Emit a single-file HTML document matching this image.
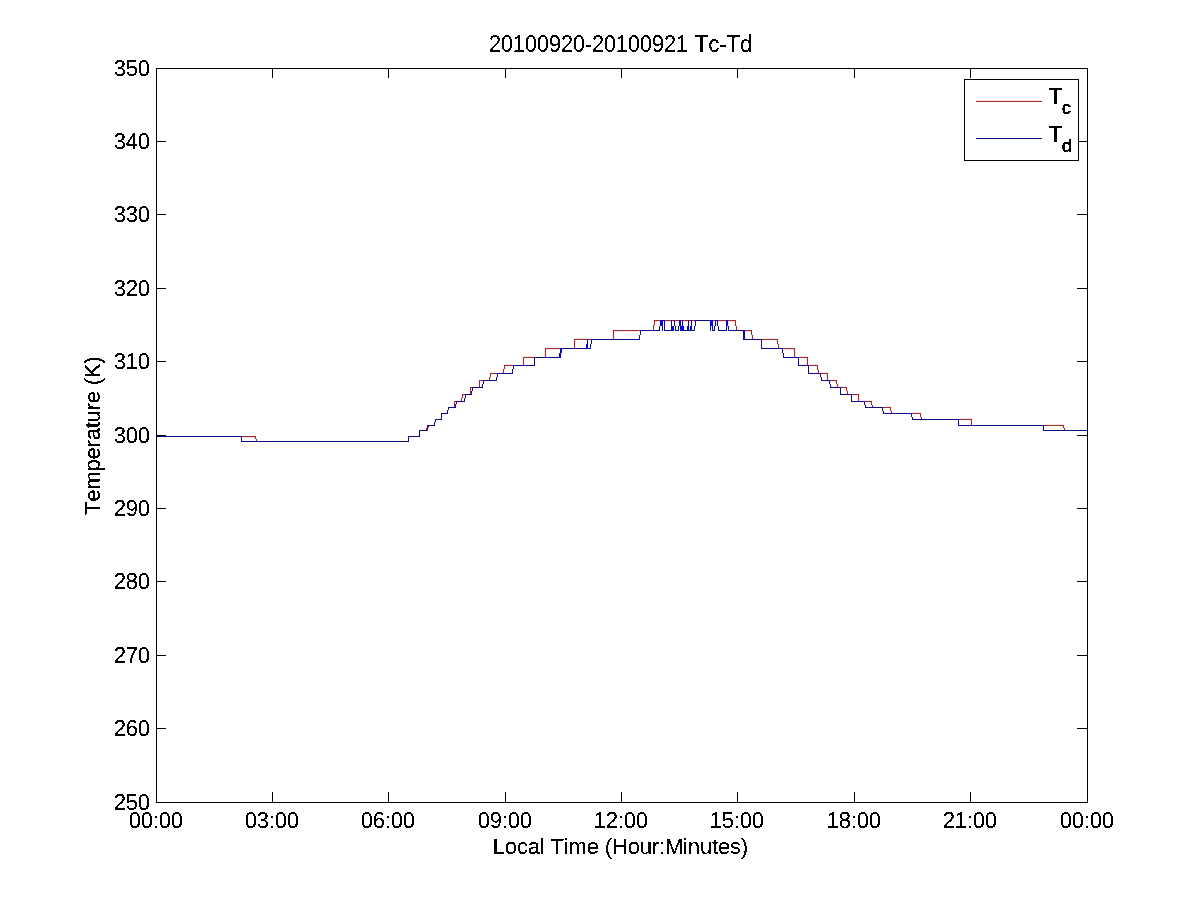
<!DOCTYPE html>
<html lang="en">
<head>
<meta charset="utf-8">
<title>20100920-20100921 Tc-Td</title>
<style>
html,body{margin:0;padding:0;background:#fff;}
body{width:1201px;height:901px;overflow:hidden;}
svg{display:block;}
text{font-family:"Liberation Sans",Arial,Helvetica,sans-serif;font-size:22px;fill:#000;font-kerning:none;font-variant-ligatures:none;}
.sub{font-size:17.6px;stroke:#000;stroke-width:0.45px;}
</style>
</head>
<body>
<svg width="1201" height="901" viewBox="0 0 1201 901" shape-rendering="crispEdges">
<defs><filter id="px" x="0" y="0" width="100%" height="100%" filterUnits="userSpaceOnUse" color-interpolation-filters="sRGB"><feComponentTransfer><feFuncA type="discrete" tableValues="0 0 0 0 0 1 1 1 1 1 1 1"/></feComponentTransfer></filter></defs>
<rect width="1201" height="901" fill="#fff"/>
<g id="data">
<path fill="#fcf0fc" d="M663 321h1v1h-1zM696 321h1v1h-1zM716 321h1v1h-1zM718 321h1v1h-1zM659 322h1v1h-1zM665 322h2v1h-2zM669 322h2v1h-2zM672 322h2v1h-2zM675 322h4v1h-4zM681 322h1v1h-1zM683 322h2v1h-2zM687 322h1v1h-1zM689 322h2v1h-2zM692 322h3v1h-3zM713 322h2v1h-2zM725 322h1v1h-1zM728 322h1v1h-1zM652 329h1v1h-1zM737 329h1v1h-1zM639 331h1v1h-1zM745 332h2v1h-2zM586 338h2v1h-2zM590 338h3v1h-3zM611 337h1v2h-1zM614 337h1v2h-1zM751 337h1v2h-1zM754 337h1v2h-1zM761 338h2v1h-2zM586 340h1v1h-1zM590 340h1v1h-1zM575 347h1v1h-1zM779 347h1v1h-1zM781 349h1v1h-1zM559 350h1v1h-1zM783 350h2v1h-2zM796 355h1v1h-1zM533 356h2v1h-2zM543 355h1v2h-1zM546 355h1v2h-1zM793 355h1v2h-1zM796 356h4v1h-4zM799 358h1v1h-1zM808 363h1v1h-1zM512 364h3v1h-3zM521 363h1v2h-1zM524 363h1v2h-1zM805 363h1v2h-1zM808 364h2v1h-2zM512 366h1v1h-1zM809 366h1v1h-1zM820 371h1v1h-1zM496 372h3v1h-3zM501 371h1v2h-1zM504 371h1v2h-1zM817 371h1v2h-1zM820 372h2v1h-2zM496 374h1v1h-1zM821 374h1v1h-1zM488 379h1v1h-1zM826 379h1v1h-1zM828 379h1v1h-1zM484 381h1v1h-1zM830 381h1v1h-1zM481 382h2v1h-2zM838 385h1v1h-1zM471 386h2v1h-2zM477 385h1v2h-1zM480 385h1v2h-1zM835 385h1v2h-1zM838 386h4v1h-4zM841 388h1v1h-1zM472 391h1v2h-1zM463 393h1v1h-1zM469 391h1v3h-1zM846 393h1v1h-1zM466 395h1v1h-1zM852 395h1v1h-1zM464 396h1v1h-1zM463 397h2v1h-2zM455 400h2v1h-2zM459 399h1v2h-1zM462 399h1v2h-1zM857 399h1v2h-1zM860 399h1v2h-1zM863 400h3v1h-3zM865 402h1v1h-1zM456 404h1v2h-1zM870 405h2v1h-2zM873 405h1v1h-1zM453 404h1v3h-1zM869 406h3v1h-3zM873 406h2v1h-2zM881 406h3v1h-3zM883 408h1v1h-1zM889 411h1v2h-1zM892 411h1v2h-1zM911 412h2v1h-2zM919 417h1v2h-1zM922 417h1v2h-1zM957 418h3v1h-3zM959 420h1v1h-1zM969 423h1v2h-1zM972 423h1v2h-1zM1043 424h2v1h-2zM429 426h1v1h-1zM426 427h1v1h-1zM428 428h1v1h-1zM425 429h1v1h-1zM1065 429h1v1h-1zM425 431h3v1h-3zM242 437h1v1h-1zM254 439h2v1h-2zM257 439h1v1h-1zM253 440h3v1h-3zM257 440h2v1h-2z"/>
<path fill="#f0f0fc" d="M709 321h1v1h-1zM681 323h1v3h-1zM683 325h1v1h-1zM689 323h2v3h-2zM713 323h2v3h-2zM716 322h1v4h-1zM715 326h1v1h-1zM658 329h1v1h-1zM663 322h1v8h-1zM665 329h1v1h-1zM670 329h1v1h-1zM674 326h1v4h-1zM679 326h1v4h-1zM686 329h1v1h-1zM689 326h1v4h-1zM711 326h1v4h-1zM713 326h1v4h-1zM719 329h1v1h-1zM727 326h1v4h-1zM729 329h1v1h-1zM641 331h2v1h-2zM741 331h2v1h-2zM641 332h1v1h-1zM742 332h1v1h-1zM638 337h1v1h-1zM745 337h1v1h-1zM637 338h2v1h-2zM745 338h2v1h-2zM760 340h1v1h-1zM586 343h1v1h-1zM562 349h1v1h-1zM561 353h1v2h-1zM558 355h1v1h-1zM557 356h2v1h-2zM784 356h1v1h-1zM535 358h1v1h-1zM799 363h1v1h-1zM533 364h1v1h-1zM799 364h2v1h-2zM809 371h1v1h-1zM511 372h1v1h-1zM809 372h2v1h-2zM827 381h2v1h-2zM828 382h1v1h-1zM831 385h1v1h-1zM481 386h1v1h-1zM831 386h2v1h-2zM473 388h1v1h-1zM841 393h1v1h-1zM849 395h2v1h-2zM850 396h1v1h-1zM463 400h1v1h-1zM852 400h1v1h-1zM457 402h1v1h-1zM866 406h1v1h-1zM449 408h1v1h-1zM446 411h1v1h-1zM445 412h2v1h-2zM884 412h1v1h-1zM910 414h1v1h-1zM440 417h1v1h-1zM439 418h2v1h-2zM913 418h2v1h-2zM959 423h1v1h-1zM433 424h1v1h-1zM959 424h2v1h-2zM1042 426h1v1h-1zM420 431h1v1h-1zM418 435h1v1h-1zM239 437h2v1h-2zM409 437h2v1h-2zM240 438h1v1h-1zM409 438h1v1h-1zM242 440h1v1h-1zM407 440h1v1h-1z"/>
<path fill="#fce4fc" d="M659 321h1v1h-1zM665 321h2v1h-2zM669 321h2v1h-2zM672 321h2v1h-2zM675 321h4v1h-4zM681 321h1v1h-1zM683 321h2v1h-2zM687 321h1v1h-1zM689 321h2v1h-2zM692 321h3v1h-3zM713 321h2v1h-2zM725 321h1v1h-1zM728 321h1v1h-1zM745 331h2v1h-2zM612 337h1v2h-1zM753 337h1v2h-1zM559 349h1v1h-1zM783 349h2v1h-2zM544 355h1v2h-1zM795 355h1v2h-1zM522 363h1v2h-1zM806 363h1v2h-1zM502 371h1v2h-1zM819 371h1v2h-1zM481 381h2v1h-2zM478 385h1v2h-1zM836 385h1v2h-1zM471 388h1v3h-1zM464 395h1v1h-1zM463 396h1v1h-1zM460 399h1v2h-1zM859 399h1v2h-1zM455 402h1v2h-1zM890 411h1v2h-1zM920 417h1v2h-1zM970 423h1v2h-1z"/>
<path fill="#fcf0f0" d="M655 319h1v1h-1zM734 319h1v1h-1zM653 321h1v1h-1zM736 321h1v1h-1zM656 322h1v1h-1zM733 322h1v1h-1zM653 323h1v2h-1zM655 323h1v2h-1zM734 325h1v1h-1zM736 325h1v1h-1zM652 325h1v2h-1zM654 325h1v2h-1zM735 326h1v1h-1zM737 326h1v1h-1zM750 329h1v1h-1zM612 330h1v1h-1zM752 331h1v1h-1zM614 332h1v1h-1zM749 332h1v1h-1zM750 333h1v2h-1zM752 333h1v2h-1zM751 335h1v2h-1zM753 335h1v2h-1zM574 338h1v1h-1zM585 338h1v1h-1zM588 338h2v1h-2zM777 338h1v1h-1zM576 340h1v1h-1zM775 340h1v1h-1zM776 343h1v1h-1zM778 343h1v1h-1zM777 344h1v1h-1zM779 344h1v1h-1zM544 348h1v1h-1zM795 348h1v1h-1zM546 350h1v1h-1zM793 350h1v1h-1zM523 356h2v1h-2zM800 356h1v1h-1zM807 356h1v1h-1zM522 357h1v2h-1zM524 358h1v1h-1zM805 358h1v1h-1zM504 364h1v1h-1zM511 364h1v1h-1zM810 364h1v1h-1zM817 364h1v1h-1zM506 366h1v1h-1zM815 366h1v1h-1zM503 367h1v2h-1zM505 367h1v2h-1zM816 369h1v1h-1zM818 369h1v1h-1zM502 369h1v2h-1zM504 369h1v2h-1zM817 370h1v1h-1zM819 370h1v1h-1zM490 372h1v1h-1zM495 372h1v1h-1zM822 372h1v1h-1zM827 372h1v1h-1zM492 374h1v1h-1zM825 374h1v1h-1zM489 375h1v2h-1zM491 375h1v2h-1zM488 377h1v2h-1zM490 377h1v2h-1zM478 380h1v1h-1zM837 380h1v1h-1zM480 382h1v1h-1zM835 382h1v1h-1zM470 386h1v1h-1zM842 386h1v1h-1zM845 386h2v1h-2zM845 388h1v1h-1zM847 387h1v2h-1zM859 394h1v1h-1zM461 395h1v1h-1zM857 396h1v1h-1zM461 397h1v1h-1zM460 398h1v1h-1zM462 398h1v1h-1zM454 400h1v1h-1zM866 400h1v1h-1zM871 400h1v1h-1zM869 402h1v1h-1zM870 403h1v2h-1zM872 403h1v2h-1zM884 406h1v1h-1zM889 406h2v1h-2zM889 408h1v1h-1zM891 407h1v2h-1zM919 412h2v1h-2zM919 414h1v1h-1zM921 413h1v2h-1zM960 418h1v1h-1zM971 418h1v1h-1zM969 420h1v1h-1zM1063 424h1v1h-1zM1061 426h1v1h-1zM429 427h1v1h-1zM1062 427h1v1h-1zM1064 427h1v1h-1zM1063 428h1v1h-1zM1065 428h1v1h-1zM254 435h1v1h-1zM253 438h2v1h-2zM256 437h1v2h-1z"/>
<path fill="#fcd8f0" d="M463 395h1v1h-1z"/>
<path fill="#fce4e4" d="M656 321h3v1h-3zM667 321h2v1h-2zM685 321h2v1h-2zM719 321h6v1h-6zM729 321h5v1h-5zM655 322h1v1h-1zM734 322h1v3h-1zM652 327h1v2h-1zM737 327h1v2h-1zM614 331h25v1h-25zM747 331h3v1h-3zM750 332h1v1h-1zM612 331h1v6h-1zM575 338h10v1h-10zM763 338h14v1h-14zM776 340h1v3h-1zM575 340h1v7h-1zM779 345h1v2h-1zM546 349h13v1h-13zM785 349h9v1h-9zM544 349h1v6h-1zM795 349h1v6h-1zM525 356h8v1h-8zM801 356h6v1h-6zM522 359h1v4h-1zM806 358h1v5h-1zM505 364h6v1h-6zM811 364h6v1h-6zM505 366h1v1h-1zM816 366h1v3h-1zM491 372h4v1h-4zM823 372h4v1h-4zM491 374h1v1h-1zM826 374h1v5h-1zM480 381h1v1h-1zM831 381h5v1h-5zM837 381h1v3h-1zM478 381h1v4h-1zM836 384h1v1h-1zM843 386h2v1h-2zM847 389h1v2h-1zM846 391h1v2h-1zM853 395h5v1h-5zM859 395h1v4h-1zM867 400h4v1h-4zM870 402h1v1h-1zM885 406h4v1h-4zM891 409h1v2h-1zM913 412h6v1h-6zM921 415h1v2h-1zM961 418h10v1h-10zM970 420h1v3h-1zM1045 424h18v1h-18zM1062 426h1v1h-1zM243 437h11v1h-11z"/>
<path fill="#fcd8d8" d="M655 321h1v1h-1zM734 321h1v1h-1zM750 331h1v1h-1zM254 437h1v1h-1z"/>
<path fill="#6c24d8" d="M454 406h1v1h-1z"/>
<path fill="#8424a8" d="M454 405h1v1h-1z"/>
<path fill="#6c309c" d="M681 320h1v1h-1zM689 320h2v1h-2zM713 320h2v1h-2zM613 338h1v1h-1zM752 338h1v1h-1zM545 356h1v1h-1zM794 356h1v1h-1zM523 364h1v1h-1zM503 372h1v1h-1zM818 372h1v1h-1zM479 386h1v1h-1zM837 386h1v1h-1zM461 400h1v1h-1zM858 400h1v1h-1zM872 406h1v1h-1zM891 412h1v1h-1zM921 418h1v1h-1zM971 424h1v1h-1zM256 440h1v1h-1z"/>
<path fill="#78249c" d="M470 393h1v1h-1z"/>
<path fill="#842490" d="M427 428h1v1h-1z"/>
<path fill="#902484" d="M470 392h1v1h-1z"/>
<path fill="#783084" d="M665 320h1v1h-1zM670 320h1v1h-1zM675 320h1v1h-1zM678 320h1v1h-1zM683 320h1v1h-1zM694 320h1v1h-1zM745 330h1v1h-1zM783 348h1v1h-1zM482 380h1v1h-1z"/>
<path fill="#842484" d="M427 429h1v1h-1z"/>
<path fill="#902478" d="M454 404h1v1h-1z"/>
<path fill="#782484" d="M807 364h1v1h-1z"/>
<path fill="#783078" d="M586 339h1v1h-1zM590 339h1v1h-1zM799 357h1v1h-1zM512 365h1v1h-1zM809 365h1v1h-1zM496 373h1v1h-1zM821 373h1v1h-1zM841 387h1v1h-1zM464 394h1v1h-1zM865 401h1v1h-1zM883 407h1v1h-1zM959 419h1v1h-1zM427 430h1v1h-1z"/>
<path fill="#84306c" d="M428 426h1v1h-1z"/>
<path fill="#90246c" d="M470 391h1v1h-1z"/>
<path fill="#843060" d="M659 320h1v1h-1zM725 320h1v1h-1zM728 320h1v1h-1zM559 348h1v1h-1z"/>
<path fill="#903054" d="M613 337h1v1h-1zM752 337h1v1h-1zM545 355h1v1h-1zM794 355h1v1h-1zM523 363h1v1h-1zM503 371h1v1h-1zM818 371h1v1h-1zM479 385h1v1h-1zM837 385h1v1h-1zM461 399h1v1h-1zM858 399h1v1h-1zM891 411h1v1h-1zM921 417h1v1h-1zM971 423h1v1h-1z"/>
<path fill="#0c00fc" d="M711 321h1v1h-1z"/>
<path fill="#843054" d="M718 320h1v1h-1zM653 329h1v1h-1zM736 329h1v1h-1zM639 330h1v1h-1zM762 339h1v1h-1zM574 347h1v1h-1zM778 347h1v1h-1zM533 357h1v1h-1zM489 379h1v1h-1zM827 379h1v1h-1zM830 380h1v1h-1zM847 393h1v1h-1zM852 394h1v1h-1zM912 413h1v1h-1zM1044 425h1v1h-1zM428 427h1v1h-1zM1064 429h1v1h-1zM242 436h1v1h-1z"/>
<path fill="#902454" d="M470 390h1v1h-1z"/>
<path fill="#903048" d="M666 320h1v1h-1zM669 320h1v1h-1zM672 320h2v1h-2zM676 320h2v1h-2zM684 320h1v1h-1zM687 320h1v1h-1zM692 320h2v1h-2zM746 330h1v1h-1zM585 339h1v1h-1zM588 339h2v1h-2zM784 348h1v1h-1zM800 357h1v1h-1zM807 363h1v1h-1zM511 365h1v1h-1zM810 365h1v1h-1zM495 373h1v1h-1zM822 373h1v1h-1zM481 380h1v1h-1zM842 387h1v1h-1zM866 401h1v1h-1zM884 407h1v1h-1zM960 419h1v1h-1z"/>
<path fill="#9c2448" d="M454 403h1v1h-1z"/>
<path fill="#9c303c" d="M470 389h1v1h-1z"/>
<path fill="#a8243c" d="M463 394h1v1h-1z"/>
<path fill="#0000fc" d="M710 321h1v1h-1zM661 321h1v4h-1zM711 322h1v3h-1zM681 326h2v1h-2zM672 327h2v2h-2zM680 327h3v2h-3zM690 327h1v2h-1zM681 329h2v1h-2zM561 349h1v1h-1z"/>
<path fill="#783054" d="M872 405h1v1h-1zM256 439h1v1h-1z"/>
<path fill="#902448" d="M471 387h1v1h-1zM455 401h1v1h-1z"/>
<path fill="#9c3030" d="M657 320h2v1h-2zM667 320h2v1h-2zM685 320h2v1h-2zM719 320h6v1h-6zM729 320h4v1h-4zM735 323h1v2h-1zM653 327h1v2h-1zM736 327h1v2h-1zM613 330h26v1h-26zM747 330h2v1h-2zM613 333h1v4h-1zM577 339h8v1h-8zM763 339h12v1h-12zM777 339h1v4h-1zM574 339h1v8h-1zM778 345h1v2h-1zM545 348h14v1h-14zM785 348h10v1h-10zM545 351h1v4h-1zM794 351h1v4h-1zM524 357h9v1h-9zM801 357h4v1h-4zM523 358h1v5h-1zM807 357h1v6h-1zM507 365h4v1h-4zM811 365h4v1h-4zM504 365h1v2h-1zM817 365h1v4h-1zM493 373h2v1h-2zM823 373h2v1h-2zM490 373h1v2h-1zM827 373h1v6h-1zM479 380h2v1h-2zM831 380h6v1h-6zM836 383h1v1h-1zM479 383h1v2h-1zM837 384h1v1h-1zM843 387h3v1h-3zM470 387h1v2h-1zM846 388h1v3h-1zM847 391h1v2h-1zM853 394h6v1h-6zM858 397h1v2h-1zM867 401h2v1h-2zM454 401h1v2h-1zM871 401h1v2h-1zM885 407h5v1h-5zM890 408h1v3h-1zM913 413h7v1h-7zM920 414h1v3h-1zM961 419h8v1h-8zM971 419h1v4h-1zM1045 425h16v1h-16zM1063 425h1v2h-1zM243 436h10v1h-10z"/>
<path fill="#b42424" d="M655 320h1v1h-1zM734 320h1v1h-1zM654 321h1v1h-1zM735 321h1v1h-1zM750 330h1v1h-1zM751 331h1v1h-1zM462 395h1v1h-1zM254 436h1v1h-1zM255 437h1v1h-1z"/>
<path fill="#0c0cd8" d="M661 320h1v1h-1zM561 351h1v1h-1z"/>
<path fill="#1800d8" d="M660 321h1v1h-1zM726 321h2v1h-2zM560 349h1v1h-1z"/>
<path fill="#903030" d="M654 323h1v1h-1zM735 325h1v1h-1zM653 326h1v1h-1zM736 326h1v1h-1zM751 333h1v1h-1zM752 336h1v1h-1zM777 343h1v1h-1zM778 344h1v1h-1zM523 357h1v1h-1zM504 367h1v1h-1zM817 369h1v1h-1zM503 370h1v1h-1zM818 370h1v1h-1zM490 375h1v1h-1zM489 378h1v1h-1zM846 387h1v1h-1zM462 397h1v1h-1zM461 398h1v1h-1zM871 403h1v1h-1zM890 407h1v1h-1zM920 413h1v1h-1zM1063 427h1v1h-1zM1064 428h1v1h-1zM255 438h1v1h-1z"/>
<path fill="#a82424" d="M654 320h1v1h-1zM656 320h1v1h-1zM733 320h1v1h-1zM735 320h1v1h-1zM654 322h1v1h-1zM735 322h1v1h-1zM749 330h1v1h-1zM751 330h1v1h-1zM613 331h1v1h-1zM751 332h1v1h-1zM575 339h1v1h-1zM776 339h1v1h-1zM545 349h1v1h-1zM794 349h1v1h-1zM806 357h1v1h-1zM505 365h1v1h-1zM816 365h1v1h-1zM491 373h1v1h-1zM826 373h1v1h-1zM479 381h1v1h-1zM836 381h1v1h-1zM462 394h1v1h-1zM858 395h1v1h-1zM462 396h1v1h-1zM870 401h1v1h-1zM970 419h1v1h-1zM1062 425h1v1h-1zM253 436h1v1h-1zM255 436h1v1h-1z"/>
<path fill="#0000e4" d="M662 321h1v1h-1zM660 323h1v2h-1zM710 322h1v3h-1zM726 323h2v2h-2zM711 325h1v1h-1zM680 326h1v1h-1zM690 326h1v1h-1zM683 327h1v2h-1zM691 327h1v2h-1zM672 329h2v1h-2zM680 329h1v1h-1zM690 329h1v1h-1zM586 345h2v2h-2zM561 350h1v1h-1z"/>
<path fill="#0c00d8" d="M660 322h1v1h-1zM726 322h2v1h-2zM560 350h1v1h-1z"/>
<path fill="#0c0ccc" d="M710 320h1v1h-1zM662 322h1v1h-1zM661 325h1v1h-1zM710 325h1v1h-1zM726 325h2v1h-2zM672 326h2v1h-2zM683 326h1v1h-1zM691 326h1v1h-1zM683 329h1v1h-1zM691 329h1v1h-1zM586 344h2v1h-2zM586 347h2v1h-2zM561 348h1v1h-1zM560 352h1v1h-1z"/>
<path fill="#843030" d="M654 324h1v1h-1zM653 325h1v1h-1zM751 334h1v1h-1zM752 335h1v1h-1zM504 368h1v1h-1zM503 369h1v1h-1zM490 376h1v1h-1zM489 377h1v1h-1zM871 404h1v1h-1z"/>
<path fill="#9c2424" d="M613 332h1v1h-1zM576 339h1v1h-1zM775 339h1v1h-1zM545 350h1v1h-1zM794 350h1v1h-1zM805 357h1v1h-1zM506 365h1v1h-1zM815 365h1v1h-1zM492 373h1v1h-1zM825 373h1v1h-1zM479 382h1v1h-1zM836 382h1v1h-1zM858 396h1v1h-1zM869 401h1v1h-1zM969 419h1v1h-1zM1061 425h1v1h-1z"/>
<path fill="#0000d8" d="M560 351h1v1h-1z"/>
<path fill="#0c0cc0" d="M662 320h1v1h-1zM662 323h1v2h-1zM712 323h1v2h-1zM682 325h1v1h-1zM671 327h1v2h-1zM681 330h2v1h-2zM744 338h1v1h-1zM561 352h1v1h-1zM559 356h1v1h-1z"/>
<path fill="#1800c0" d="M712 322h1v1h-1z"/>
<path fill="#2400b4" d="M712 321h1v1h-1z"/>
<path fill="#0c00c0" d="M711 320h1v1h-1zM743 331h1v1h-1z"/>
<path fill="#0c0cb4" d="M660 325h1v1h-1zM662 325h1v1h-1zM680 325h1v1h-1zM712 325h1v1h-1zM671 326h1v1h-1zM671 329h1v1h-1zM672 330h1v1h-1zM683 330h1v1h-1zM690 330h2v1h-2zM586 348h2v1h-2zM560 353h1v1h-1z"/>
<path fill="#2400a8" d="M660 320h1v1h-1zM726 320h2v1h-2zM560 348h1v1h-1z"/>
<path fill="#3c0090" d="M455 406h1v1h-1z"/>
<path fill="#0c0ca8" d="M679 325h1v1h-1zM712 326h1v1h-1zM641 330h1v1h-1zM671 330h1v1h-1zM673 330h1v1h-1zM680 330h1v1h-1zM689 330h1v1h-1zM742 330h1v1h-1zM743 332h1v1h-1zM743 337h2v1h-2zM639 338h1v1h-1zM743 338h1v1h-1zM638 339h1v1h-1zM744 339h2v1h-2zM560 354h1v1h-1zM559 355h2v1h-2zM560 356h1v1h-1zM558 357h2v1h-2zM798 364h1v1h-1zM799 365h1v1h-1zM808 372h1v1h-1zM809 373h1v1h-1zM830 386h1v1h-1zM831 387h1v1h-1zM850 394h1v1h-1zM447 412h1v1h-1zM446 413h1v1h-1zM441 418h1v1h-1zM440 419h1v1h-1zM913 419h1v1h-1zM958 424h1v1h-1zM959 425h1v1h-1zM240 436h1v1h-1zM409 436h1v1h-1zM408 437h1v1h-1z"/>
<path fill="#180c9c" d="M663 320h1v1h-1zM716 320h1v1h-1zM664 322h1v1h-1zM679 322h2v1h-2zM682 322h1v1h-1zM715 322h1v1h-1zM743 330h1v1h-1zM744 332h1v1h-1zM828 380h1v1h-1z"/>
<path fill="#24009c" d="M664 321h1v1h-1zM715 321h1v1h-1zM717 321h1v1h-1zM640 331h1v1h-1zM744 331h1v1h-1zM829 381h1v1h-1zM851 395h1v1h-1zM454 407h1v1h-1zM241 437h1v1h-1z"/>
<path fill="#300090" d="M712 320h1v1h-1zM679 321h2v1h-2zM682 321h1v1h-1zM695 321h1v1h-1zM782 349h1v1h-1zM483 381h1v1h-1zM465 395h1v1h-1z"/>
<path fill="#54006c" d="M455 405h1v1h-1z"/>
<path fill="#0c0c9c" d="M709 320h1v1h-1zM679 323h2v2h-2zM682 323h1v2h-1zM691 325h1v1h-1zM715 323h1v3h-1zM688 326h1v1h-1zM710 326h1v1h-1zM726 326h1v1h-1zM714 326h1v3h-1zM664 323h1v7h-1zM687 327h2v3h-2zM712 327h1v3h-1zM728 327h1v3h-1zM658 330h1v1h-1zM665 330h1v1h-1zM670 330h1v1h-1zM686 330h3v1h-3zM719 330h1v1h-1zM729 330h1v1h-1zM743 333h2v4h-2zM760 339h1v1h-1zM587 343h1v1h-1zM562 348h1v1h-1zM559 354h1v1h-1zM783 356h1v1h-1zM535 357h1v1h-1zM534 364h1v1h-1zM512 372h1v1h-1zM482 386h1v1h-1zM473 387h1v1h-1zM841 394h1v1h-1zM464 400h1v1h-1zM851 400h1v1h-1zM457 401h1v1h-1zM865 406h1v1h-1zM449 407h1v1h-1zM883 412h1v1h-1zM910 413h1v1h-1zM912 418h1v1h-1zM434 424h1v1h-1zM1042 425h1v1h-1zM419 431h1v1h-1zM418 436h1v1h-1zM241 440h1v1h-1zM408 440h1v1h-1z"/>
<path fill="#240090" d="M470 394h1v1h-1z"/>
<path fill="#240c84" d="M717 320h1v1h-1zM640 330h1v1h-1zM827 380h1v1h-1zM829 380h1v1h-1zM851 394h1v1h-1zM241 436h1v1h-1z"/>
<path fill="#300084" d="M664 320h1v1h-1zM715 320h1v1h-1zM744 330h1v1h-1zM455 407h1v1h-1z"/>
<path fill="#300c78" d="M472 387h1v2h-1zM456 401h1v2h-1z"/>
<path fill="#48006c" d="M471 393h1v1h-1zM426 428h1v1h-1z"/>
<path fill="#540060" d="M426 429h1v1h-1z"/>
<path fill="#600054" d="M471 392h1v1h-1z"/>
<path fill="#0c0c90" d="M671 325h1v1h-1zM674 325h1v1h-1zM662 326h1v1h-1zM728 326h1v1h-1zM714 329h1v1h-1zM642 330h1v1h-1zM664 330h1v1h-1zM684 330h1v1h-1zM692 330h1v1h-1zM712 330h2v1h-2zM728 330h1v1h-1zM741 330h1v1h-1zM639 337h1v1h-1zM637 339h1v1h-1zM639 339h1v1h-1zM743 339h1v1h-1zM746 339h1v1h-1zM585 348h1v1h-1zM588 348h1v1h-1zM557 357h1v1h-1zM560 357h1v1h-1zM798 363h1v1h-1zM798 365h1v1h-1zM800 365h1v1h-1zM808 371h1v1h-1zM808 373h1v1h-1zM810 373h1v1h-1zM830 385h1v1h-1zM830 387h1v1h-1zM832 387h1v1h-1zM849 394h1v1h-1zM447 411h1v1h-1zM445 413h1v1h-1zM447 413h1v1h-1zM441 417h1v1h-1zM439 419h1v1h-1zM441 419h1v1h-1zM912 419h1v1h-1zM914 419h1v1h-1zM958 423h1v1h-1zM958 425h1v1h-1zM960 425h1v1h-1zM239 436h1v1h-1zM408 436h1v1h-1zM410 436h1v1h-1zM408 438h1v1h-1z"/>
<path fill="#180c84" d="M695 322h1v1h-1zM717 322h1v1h-1zM640 332h1v1h-1zM782 350h1v1h-1zM483 382h1v1h-1zM829 382h1v1h-1zM469 394h1v1h-1zM465 396h1v1h-1zM851 396h1v1h-1zM453 407h1v1h-1zM241 438h1v1h-1z"/>
<path fill="#181878" d="M659 326h1v1h-1zM662 329h1v1h-1zM710 329h1v1h-1zM675 330h1v1h-1zM678 330h1v1h-1zM694 330h1v1h-1zM726 330h1v1h-1zM640 333h1v1h-1zM639 336h1v1h-1zM590 348h1v1h-1zM761 348h1v1h-1zM496 380h1v1h-1zM821 380h1v1h-1zM441 413h1v1h-1zM911 415h1v1h-1zM912 417h1v1h-1zM435 419h1v1h-1zM1043 430h1v1h-1z"/>
<path fill="#240c78" d="M671 322h1v1h-1zM674 322h1v1h-1zM688 322h1v1h-1zM691 322h1v1h-1zM652 330h2v1h-2zM736 330h2v1h-2zM761 339h1v1h-1zM574 348h2v1h-2zM778 348h2v1h-2zM534 357h1v1h-1zM808 366h1v1h-1zM820 374h1v1h-1zM488 380h2v1h-2zM826 380h1v1h-1zM471 394h1v1h-1zM846 394h2v1h-2zM911 413h1v1h-1zM428 425h2v1h-2zM1043 425h1v1h-1zM427 426h1v1h-1zM425 430h1v1h-1zM1064 430h2v1h-2z"/>
<path fill="#300078" d="M695 320h1v1h-1zM612 339h2v1h-2zM752 339h2v1h-2zM782 348h1v1h-1zM544 357h2v1h-2zM794 357h2v1h-2zM522 365h2v1h-2zM806 365h1v1h-1zM502 373h2v1h-2zM818 373h1v1h-1zM483 380h1v1h-1zM478 387h2v1h-2zM836 387h2v1h-2zM465 394h1v1h-1zM460 401h2v1h-2zM858 401h2v1h-2zM872 407h2v1h-2zM890 413h2v1h-2zM920 419h2v1h-2zM970 425h2v1h-2zM256 441h2v1h-2z"/>
<path fill="#300c6c" d="M591 339h1v1h-1zM798 357h1v1h-1zM513 365h1v1h-1zM497 373h1v1h-1zM840 387h1v1h-1zM472 389h1v1h-1zM864 401h1v1h-1zM882 407h1v1h-1zM958 419h1v1h-1z"/>
<path fill="#3c006c" d="M679 320h2v1h-2zM682 320h1v1h-1zM671 321h1v1h-1zM674 321h1v1h-1zM688 321h1v1h-1zM691 321h1v1h-1zM807 365h1v1h-1zM819 373h1v1h-1zM427 427h1v1h-1z"/>
<path fill="#480060" d="M426 430h1v1h-1z"/>
<path fill="#600048" d="M471 391h1v1h-1zM455 404h1v1h-1z"/>
<path fill="#0c0c84" d="M697 320h12v1h-12zM671 323h1v2h-1zM674 323h1v2h-1zM691 323h1v2h-1zM717 323h1v2h-1zM688 323h1v3h-1zM695 323h1v3h-1zM687 326h1v1h-1zM662 327h1v2h-1zM675 326h1v3h-1zM678 326h1v3h-1zM694 326h1v3h-1zM710 327h1v2h-1zM726 327h1v2h-1zM643 330h8v1h-8zM655 330h3v1h-3zM659 327h1v4h-1zM666 330h4v1h-4zM685 330h1v1h-1zM718 327h1v4h-1zM720 330h5v1h-5zM730 330h5v1h-5zM739 330h2v1h-2zM593 339h18v1h-18zM615 339h22v1h-22zM747 339h4v1h-4zM755 339h5v1h-5zM587 341h1v2h-1zM591 341h1v3h-1zM590 344h1v3h-1zM761 341h1v6h-1zM563 348h10v1h-10zM577 348h8v1h-8zM763 348h14v1h-14zM782 351h1v2h-1zM559 353h1v1h-1zM783 353h1v3h-1zM536 357h7v1h-7zM547 357h10v1h-10zM783 357h10v1h-10zM798 359h1v4h-1zM534 359h1v5h-1zM515 365h6v1h-6zM525 365h10v1h-10zM801 365h4v1h-4zM513 367h1v2h-1zM808 367h1v4h-1zM512 369h1v3h-1zM499 373h2v1h-2zM505 373h8v1h-8zM811 373h6v1h-6zM497 375h1v2h-1zM820 375h1v2h-1zM496 377h1v2h-1zM821 377h1v2h-1zM485 380h2v1h-2zM491 380h4v1h-4zM823 380h2v1h-2zM483 383h1v1h-1zM482 384h1v2h-1zM474 387h3v1h-3zM481 387h2v1h-2zM833 387h2v1h-2zM467 394h2v1h-2zM840 389h1v6h-1zM842 394h3v1h-3zM465 397h1v1h-1zM464 399h1v1h-1zM851 397h1v3h-1zM458 401h1v1h-1zM463 401h2v1h-2zM851 401h6v1h-6zM861 401h2v1h-2zM864 403h1v2h-1zM865 405h1v1h-1zM450 407h3v1h-3zM865 407h6v1h-6zM875 407h6v1h-6zM448 407h1v2h-1zM882 409h1v2h-1zM883 411h1v1h-1zM443 413h2v1h-2zM883 413h6v1h-6zM893 413h17v1h-17zM441 415h1v2h-1zM437 419h2v1h-2zM915 419h4v1h-4zM923 419h34v1h-34zM435 421h1v1h-1zM958 421h1v2h-1zM434 422h1v2h-1zM431 425h4v1h-4zM961 425h8v1h-8zM973 425h69v1h-69zM1043 427h1v2h-1zM419 430h6v1h-6zM1045 430h18v1h-18zM1067 430h20v1h-20zM157 436h82v1h-82zM411 436h7v1h-7zM419 432h1v5h-1zM241 439h1v1h-1zM408 439h1v1h-1zM241 441h14v1h-14zM259 441h150v1h-150z"/>
<path fill="#180c78" d="M696 320h1v1h-1zM651 330h1v1h-1zM654 330h1v1h-1zM735 330h1v1h-1zM738 330h1v1h-1zM592 339h1v1h-1zM611 339h1v1h-1zM614 339h1v1h-1zM751 339h1v1h-1zM754 339h1v1h-1zM591 340h1v1h-1zM761 340h1v1h-1zM573 348h1v1h-1zM576 348h1v1h-1zM777 348h1v1h-1zM780 348h2v1h-2zM543 357h1v1h-1zM546 357h1v1h-1zM793 357h1v1h-1zM796 357h2v1h-2zM534 358h1v1h-1zM798 358h1v1h-1zM514 365h1v1h-1zM521 365h1v1h-1zM524 365h1v1h-1zM805 365h1v1h-1zM513 366h1v1h-1zM498 373h1v1h-1zM501 373h1v1h-1zM504 373h1v1h-1zM817 373h1v1h-1zM497 374h1v1h-1zM484 380h1v1h-1zM487 380h1v1h-1zM490 380h1v1h-1zM825 380h1v1h-1zM477 387h1v1h-1zM480 387h1v1h-1zM835 387h1v1h-1zM838 387h2v1h-2zM840 388h1v1h-1zM466 394h1v1h-1zM845 394h1v1h-1zM848 394h1v1h-1zM464 398h1v1h-1zM459 401h1v1h-1zM462 401h1v1h-1zM857 401h1v1h-1zM860 401h1v1h-1zM863 401h1v1h-1zM864 402h1v1h-1zM871 407h1v1h-1zM874 407h1v1h-1zM881 407h1v1h-1zM882 408h1v1h-1zM889 413h1v1h-1zM892 413h1v1h-1zM911 414h1v1h-1zM919 419h1v1h-1zM922 419h1v1h-1zM957 419h1v1h-1zM958 420h1v1h-1zM430 425h1v1h-1zM969 425h1v1h-1zM972 425h1v1h-1zM1043 426h1v1h-1zM1063 430h1v1h-1zM1066 430h1v1h-1zM255 441h1v1h-1zM258 441h1v1h-1z"/>
<path fill="#18186c" d="M717 325h1v1h-1zM718 326h1v1h-1zM640 334h1v1h-1zM639 335h1v1h-1zM829 383h1v1h-1zM830 384h1v1h-1zM448 409h1v1h-1zM447 410h1v1h-1zM911 416h1v1h-1z"/>
<path fill="#240c6c" d="M587 340h1v1h-1z"/>
<path fill="#300c60" d="M472 390h1v1h-1zM456 403h1v1h-1z"/>
<path fill="#3c0060" d="M808 365h1v1h-1zM820 373h1v1h-1z"/>
<path fill="#480054" d="M671 320h1v1h-1zM674 320h1v1h-1zM688 320h1v1h-1zM691 320h1v1h-1z"/>
<path fill="#0c0c78" d="M675 329h1v1h-1zM678 329h1v1h-1zM694 329h1v1h-1zM726 329h1v1h-1zM676 330h2v1h-2zM693 330h1v1h-1zM714 330h1v1h-1zM725 330h1v1h-1zM590 347h1v1h-1zM761 347h1v1h-1zM589 348h1v1h-1zM762 348h1v1h-1zM496 379h1v1h-1zM821 379h1v1h-1zM495 380h1v1h-1zM822 380h1v1h-1zM442 413h1v1h-1zM441 414h1v1h-1zM436 419h1v1h-1zM435 420h1v1h-1zM1043 429h1v1h-1zM1044 430h1v1h-1z"/>
<path fill="#180c6c" d="M427 425h1v1h-1z"/>
<path fill="#181860" d="M662 330h1v1h-1zM710 330h1v1h-1z"/>
<path fill="#480048" d="M587 339h1v1h-1z"/>
</g>
<g id="axes">
<path fill="#000" d="M156 68h932v1h-932zM156 802h932v1h-932zM156 68h1v735h-1zM1087 68h1v735h-1zM272 69h1v9h-1zM272 792h1v10h-1zM388 69h1v9h-1zM388 792h1v10h-1zM505 69h1v9h-1zM505 792h1v10h-1zM621 69h1v9h-1zM621 792h1v10h-1zM737 69h1v9h-1zM737 792h1v10h-1zM854 69h1v9h-1zM854 792h1v10h-1zM970 69h1v9h-1zM970 792h1v10h-1zM157 141h9v1h-9zM1077 141h10v1h-10zM157 214h9v1h-9zM1077 214h10v1h-10zM157 288h9v1h-9zM1077 288h10v1h-10zM157 361h9v1h-9zM1077 361h10v1h-10zM157 435h9v1h-9zM1077 435h10v1h-10zM157 508h9v1h-9zM1077 508h10v1h-10zM157 581h9v1h-9zM1077 581h10v1h-10zM157 655h9v1h-9zM1077 655h10v1h-10zM157 728h9v1h-9zM1077 728h10v1h-10z"/>
</g>
<g id="legend">
<rect x="964" y="79" width="115" height="82" fill="#fff"/>
<path fill="#fcf0f0" d="M976 100h1v1h-1zM1041 100h1v1h-1z"/>
<path fill="#fce4e4" d="M977 100h64v1h-64z"/>
<path fill="#9c3030" d="M977 101h64v1h-64z"/>
<path fill="#843030" d="M976 101h1v1h-1zM1041 101h1v1h-1z"/>
<path fill="#0c0c84" d="M977 138h64v1h-64z"/>
<path fill="#18186c" d="M976 138h1v1h-1zM1041 138h1v1h-1z"/>
<path fill="#000" d="M964 79h115v1h-115zM964 160h115v1h-115zM964 79h1v82h-1zM1078 79h1v82h-1z"/>
</g>
<g id="labels" filter="url(#px)">
<text transform="translate(128.8 828) rotate(0.03) scale(1 1.05)" letter-spacing="-0.23">00:00</text>
<text transform="translate(244.8 828) rotate(0.03) scale(1 1.05)" letter-spacing="-0.23">03:00</text>
<text transform="translate(360.8 828) rotate(0.03) scale(1 1.05)" letter-spacing="-0.23">06:00</text>
<text transform="translate(477.8 828) rotate(0.03) scale(1 1.05)" letter-spacing="-0.23">09:00</text>
<text transform="translate(593.8 828) rotate(0.03) scale(1 1.05)" letter-spacing="-0.23">12:00</text>
<text transform="translate(709.8 828) rotate(0.03) scale(1 1.05)" letter-spacing="-0.23">15:00</text>
<text transform="translate(826.8 828) rotate(0.03) scale(1 1.05)" letter-spacing="-0.23">18:00</text>
<text transform="translate(942.8 828) rotate(0.03) scale(1 1.05)" letter-spacing="-0.23">21:00</text>
<text transform="translate(1059.8 828) rotate(0.03) scale(1 1.05)" letter-spacing="-0.23">00:00</text>
<text transform="translate(113.8 76) rotate(0.03) scale(1 1.05)" letter-spacing="-0.23">350</text>
<text transform="translate(113.8 149) rotate(0.03) scale(1 1.05)" letter-spacing="-0.23">340</text>
<text transform="translate(113.8 222) rotate(0.03) scale(1 1.05)" letter-spacing="-0.23">330</text>
<text transform="translate(113.8 296) rotate(0.03) scale(1 1.05)" letter-spacing="-0.23">320</text>
<text transform="translate(113.8 369) rotate(0.03) scale(1 1.05)" letter-spacing="-0.23">310</text>
<text transform="translate(113.8 443) rotate(0.03) scale(1 1.05)" letter-spacing="-0.23">300</text>
<text transform="translate(113.8 516) rotate(0.03) scale(1 1.05)" letter-spacing="-0.23">290</text>
<text transform="translate(113.8 589) rotate(0.03) scale(1 1.05)" letter-spacing="-0.23">280</text>
<text transform="translate(113.8 663) rotate(0.03) scale(1 1.05)" letter-spacing="-0.23">270</text>
<text transform="translate(113.8 736) rotate(0.03) scale(1 1.05)" letter-spacing="-0.23">260</text>
<text transform="translate(113.8 810) rotate(0.03) scale(1 1.05)" letter-spacing="-0.23">250</text>
<text transform="translate(488.8 52) rotate(0.03) scale(1 1.05)" x="0" y="0" letter-spacing="-0.23">20100920-20100921 <tspan x="206" letter-spacing="0">Tc-Td</tspan></text>
<text x="620.4" y="854.4" text-anchor="middle" letter-spacing="-0.16">Local Time (Hour:Minutes)</text>
<text transform="translate(99.9 435.6) rotate(-90)" text-anchor="middle" letter-spacing="-0.2">Temperature (K)</text>
<text transform="translate(1048.8 104) rotate(0.03) scale(1 1.05)">T</text><text class="sub" x="1062" y="114.1">c</text>
<text transform="translate(1048.8 142) rotate(0.03) scale(1 1.05)">T</text><text class="sub" x="1062" y="151.9">d</text>
</g>
</svg>
</body>
</html>
